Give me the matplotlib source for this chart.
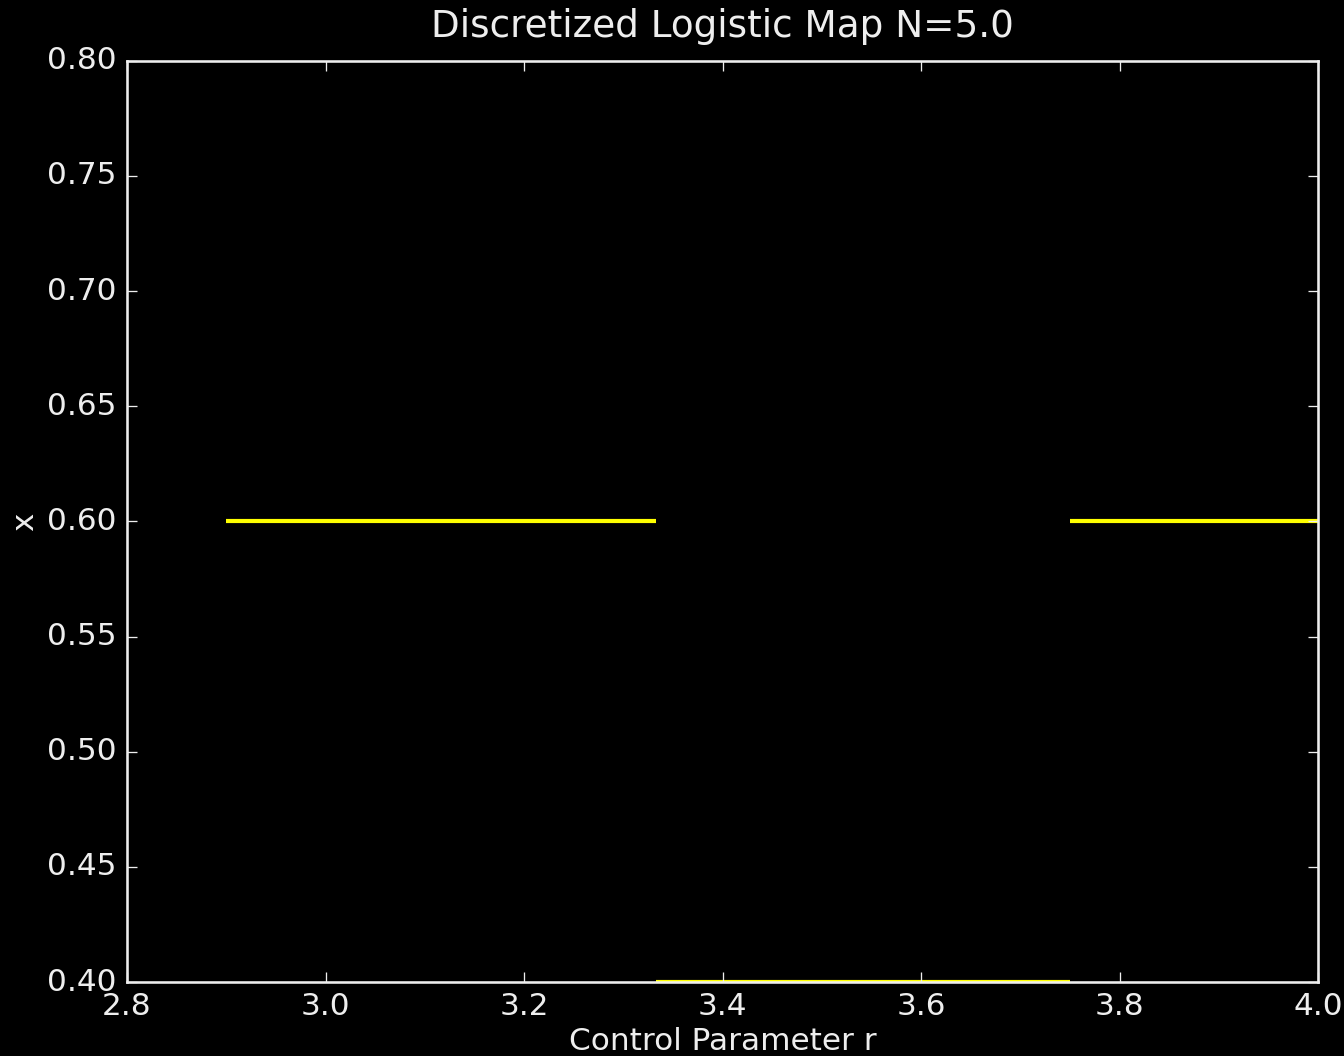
import matplotlib
matplotlib.use("Agg")
import matplotlib.pyplot as plt
import numpy as np

# segments of the discretized logistic map: (r start, r end, x value)
r_start = [2.9, 3.3333, 3.75]
r_end = [3.3333, 3.75, 4.0]
x_vals = [0.6, 0.4, 0.6]

plt.style.use('classic')
fg = '#eeeeee'
plt.rcParams.update({
    'figure.facecolor': 'black',
    'axes.facecolor': 'black',
    'axes.edgecolor': fg,
    'axes.labelcolor': fg,
    'text.color': fg,
    'xtick.color': fg,
    'ytick.color': fg,
    'savefig.facecolor': 'black',
})

DPI = 187
fig = plt.figure(figsize=(1344 / DPI, 1056 / DPI), dpi=DPI)
ax = fig.add_axes([0.0945, 0.070, 0.8862, 0.8725])

for a, b, v in zip(r_start, r_end, x_vals):
    ax.plot([a, b], [v, v], color='yellow', lw=1.6, solid_capstyle='butt')

ax.set_xlim(2.8, 4.0)
ax.set_ylim(0.40, 0.80)
ax.set_xticks(np.arange(2.8, 4.01, 0.2))
ax.set_yticks(np.arange(0.40, 0.801, 0.05))
ax.xaxis.set_major_formatter(matplotlib.ticker.FormatStrFormatter('%.1f'))
ax.yaxis.set_major_formatter(matplotlib.ticker.FormatStrFormatter('%.2f'))
ax.set_xlabel('Control Parameter r', labelpad=2)
ax.set_ylabel('x', labelpad=3)
ax.set_title('Discretized Logistic Map N=5.0', pad=9)

fig.savefig('out.png', dpi=DPI)
